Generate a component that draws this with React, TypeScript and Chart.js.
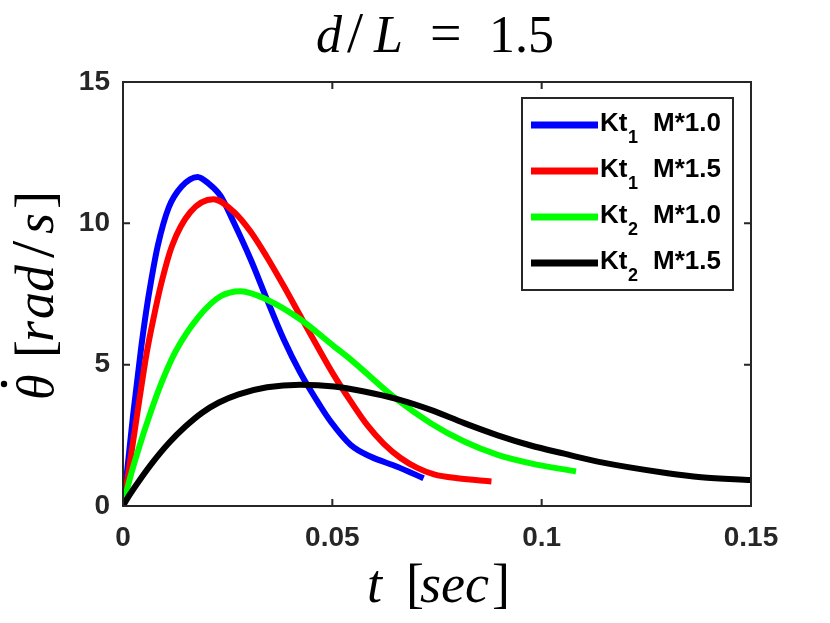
import React, { useEffect, useRef } from 'react';
import { Chart, registerables } from 'chart.js';

Chart.register(...registerables);

// values: t [sec] and theta-dot [rad/s]
const tKt1M10 = [0, 0.0007, 0.0024, 0.0043, 0.0055, 0.0067, 0.0083, 0.0109, 0.014, 0.0178, 0.0205, 0.0233, 0.0265, 0.0305, 0.0344, 0.0384, 0.0424, 0.0472, 0.0496, 0.0544, 0.0591, 0.0655, 0.0718];
const wKt1M10 = [0, 0.85, 3.2, 5.55, 6.85, 7.95, 9.2, 10.55, 11.3, 11.64, 11.4, 10.97, 10.02, 8.72, 7.3, 5.89, 4.7, 3.52, 2.99, 2.16, 1.75, 1.39, 0.98];

const tKt1M15 = [0, 0.0009, 0.0033, 0.0057, 0.0073, 0.0091, 0.0117, 0.0161, 0.0216, 0.0265, 0.0305, 0.0344, 0.0384, 0.0424, 0.0464, 0.0504, 0.0544, 0.0584, 0.0623, 0.0663, 0.0703, 0.0743, 0.0799, 0.088];
const wKt1M15 = [0, 0.8, 3.16, 5.45, 6.65, 7.85, 9.2, 10.4, 10.85, 10.4, 9.7, 8.8, 7.78, 6.71, 5.65, 4.62, 3.7, 2.85, 2.2, 1.7, 1.35, 1.12, 0.98, 0.87];

const tKt2M10 = [0, 0.0017, 0.0039, 0.0061, 0.0089, 0.0125, 0.0181, 0.0233, 0.0281, 0.0344, 0.0424, 0.0504, 0.0544, 0.0655, 0.0735, 0.0815, 0.0895, 0.0974, 0.1082];
const wKt2M10 = [0, 1.0, 2.1, 3.1, 4.25, 5.45, 6.7, 7.42, 7.6, 7.3, 6.6, 5.65, 5.18, 3.76, 2.93, 2.28, 1.81, 1.51, 1.22];

const tKt2M15 = [0, 0.0013, 0.0037, 0.0069, 0.0109, 0.0149, 0.0189, 0.0229, 0.0276, 0.0344, 0.0424, 0.0504, 0.0576, 0.0655, 0.0735, 0.0815, 0.0895, 0.0974, 0.1054, 0.1134, 0.1301, 0.1381, 0.15];
const wKt2M15 = [0, 0.33, 0.86, 1.51, 2.22, 2.81, 3.3, 3.66, 3.95, 4.2, 4.29, 4.23, 4.05, 3.78, 3.4, 2.93, 2.5, 2.14, 1.85, 1.57, 1.16, 1.02, 0.92];

const seriesT = [tKt1M10, tKt1M15, tKt2M10, tKt2M15];
const seriesW = [wKt1M10, wKt1M15, wKt2M10, wKt2M15];
const legendBase = 'Kt';
const legendSubs = ['1', '1', '2', '2'];
const legendMass = ['M*1.0', 'M*1.5', 'M*1.0', 'M*1.5'];
const lineColors = ['#0000ff', '#ff0000', '#00ff00', '#000000'];

const xTicks = [0, 0.05, 0.1, 0.15];
const yTicks = [0, 5, 10, 15];

const AXIS = '#262626';
const SANS = "'Liberation Sans', Arial, sans-serif";
const SERIF = "'Liberation Serif', 'Times New Roman', serif";

// box round the axes plus MATLAB-style inward ticks
const framePlugin = {
  id: 'frame',
  afterDatasetsDraw(chart: any) {
    const { ctx, chartArea: a, scales } = chart;
    ctx.save();
    ctx.strokeStyle = AXIS;
    ctx.lineWidth = 2;
    ctx.strokeRect(a.left, a.top, a.right - a.left, a.bottom - a.top);
    ctx.beginPath();
    xTicks.forEach(v => {
      const px = scales.x.getPixelForValue(v);
      ctx.moveTo(px, a.bottom); ctx.lineTo(px, a.bottom - 7);
      ctx.moveTo(px, a.top); ctx.lineTo(px, a.top + 7);
    });
    yTicks.forEach(v => {
      const py = scales.y.getPixelForValue(v);
      ctx.moveTo(a.left, py); ctx.lineTo(a.left + 7, py);
      ctx.moveTo(a.right, py); ctx.lineTo(a.right - 7, py);
    });
    ctx.stroke();
    ctx.restore();
  },
};

function put(ctx: CanvasRenderingContext2D, text: string, x: number, y: number, italic: boolean, size: number) {
  ctx.font = `${italic ? 'italic ' : ''}${size}px ${SERIF}`;
  ctx.fillText(text, x, y);
}

// LaTeX-looking title and axis labels
const labelsPlugin = {
  id: 'texLabels',
  afterDraw(chart: any) {
    const { ctx, chartArea: a } = chart;
    const cx = (a.left + a.right) / 2;
    ctx.save();
    ctx.fillStyle = '#000';
    ctx.textBaseline = 'alphabetic';
    ctx.textAlign = 'left';

    // title  d/L = 1.5
    const ty = 52;
    put(ctx, 'd', cx - 121, ty, true, 52);
    put(ctx, '/', cx - 90, ty, false, 58);
    put(ctx, 'L', cx - 63, ty, true, 52);
    put(ctx, '=', cx - 7, ty, false, 56);
    put(ctx, '1.5', cx + 52, ty, false, 52);

    // x label  t [sec]
    const xy = 602;
    put(ctx, 't', cx - 70, xy, true, 54);
    put(ctx, '[', cx - 31, xy, false, 54);
    put(ctx, 'sec', cx - 17, xy, true, 54);
    put(ctx, ']', cx + 55, xy, false, 54);

    // y label  theta-dot [rad/s]
    ctx.translate(53, 400);
    ctx.rotate(-Math.PI / 2);
    put(ctx, 'θ', 0, 0, true, 52);
    ctx.beginPath();
    ctx.arc(16, -49, 3.2, 0, Math.PI * 2);
    ctx.fill();
    put(ctx, '[', 42, 0, false, 54);
    put(ctx, 'r', 58, 0, true, 54);
    put(ctx, 'a', 81, 0, true, 54);
    put(ctx, 'd', 108, 0, true, 54);
    put(ctx, '/', 142, 0, false, 62);
    put(ctx, 's', 166, 0, true, 54);
    put(ctx, ']', 191, 0, false, 54);
    ctx.restore();
  },
};

// legend with subscripts
const legendPlugin = {
  id: 'subLegend',
  afterDraw(chart: any) {
    const { ctx } = chart;
    const box = { x: 522, y: 98, w: 211, h: 192 };
    ctx.save();
    ctx.fillStyle = '#fff';
    ctx.fillRect(box.x, box.y, box.w, box.h);
    ctx.strokeStyle = AXIS;
    ctx.lineWidth = 2;
    ctx.strokeRect(box.x, box.y, box.w, box.h);
    chart.data.datasets.forEach((ds: any, i: number) => {
      const ly = box.y + 27 + i * 46;
      ctx.strokeStyle = ds.borderColor;
      ctx.lineWidth = 7;
      ctx.beginPath();
      ctx.moveTo(box.x + 9, ly);
      ctx.lineTo(box.x + 76, ly);
      ctx.stroke();
      ctx.fillStyle = '#000';
      ctx.textAlign = 'left';
      ctx.textBaseline = 'alphabetic';
      ctx.font = `bold 26px ${SANS}`;
      ctx.fillText(legendBase, box.x + 78, ly + 6);
      ctx.font = `bold 18px ${SANS}`;
      ctx.fillText(legendSubs[i], box.x + 106, ly + 18);
      ctx.font = `bold 26px ${SANS}`;
      ctx.fillText(legendMass[i], box.x + 131, ly + 6);
    });
    ctx.restore();
  },
};

function ThetaDotChart() {
  const canvasRef = useRef<HTMLCanvasElement>(null);
  const chartRef = useRef<Chart | null>(null);

  useEffect(() => {
    if (!canvasRef.current) return;
    const ctx = canvasRef.current.getContext('2d');
    if (!ctx) return;

    const tickFont = { family: SANS, size: 28, weight: 'bold' as const };

    chartRef.current = new Chart(ctx, {
      type: 'line',
      data: {
        datasets: seriesT.map((ts, i) => ({
          label: `${legendBase}${legendSubs[i]} ${legendMass[i]}`,
          data: ts.map((t, k) => ({ x: t, y: seriesW[i][k] })),
          borderColor: lineColors[i],
          backgroundColor: lineColors[i],
          borderWidth: 6,
          pointRadius: 0,
          cubicInterpolationMode: 'monotone' as const,
          fill: false,
          order: 4 - i,
        })),
      },
      options: {
        animation: false,
        responsive: true,
        maintainAspectRatio: false,
        layout: { padding: { left: 0, top: 82, right: 79, bottom: 0 } },
        plugins: {
          legend: { display: false },
          title: { display: false },
          tooltip: { enabled: false },
        },
        scales: {
          x: {
            type: 'linear',
            min: 0,
            max: 0.15,
            afterBuildTicks: (s: any) => { s.ticks = xTicks.map(v => ({ value: v })); },
            afterFit: (s: any) => { s.height = 117; },
            grid: { display: false, drawTicks: false },
            border: { display: false },
            ticks: {
              font: tickFont,
              color: AXIS,
              padding: 15,
              maxRotation: 0,
              autoSkip: false,
              callback: (v: any) => String(v),
            },
          },
          y: {
            type: 'linear',
            min: 0,
            max: 15,
            afterBuildTicks: (s: any) => { s.ticks = yTicks.map(v => ({ value: v })); },
            afterFit: (s: any) => { s.width = 123; },
            grid: { display: false, drawTicks: false },
            border: { display: false },
            ticks: {
              font: tickFont,
              color: AXIS,
              padding: 13,
              autoSkip: false,
              callback: (v: any) => String(v),
            },
          },
        },
      },
      plugins: [framePlugin, labelsPlugin, legendPlugin],
    });

    return () => {
      if (chartRef.current) {
        chartRef.current.destroy();
        chartRef.current = null;
      }
    };
  }, []);

  return <canvas ref={canvasRef} />;
}

export default function App() {
  return (
    <div style={{ position: 'absolute', left: 0, top: 0, width: 830, height: 623, background: '#fff' }}>
      <ThetaDotChart />
    </div>
  );
}
